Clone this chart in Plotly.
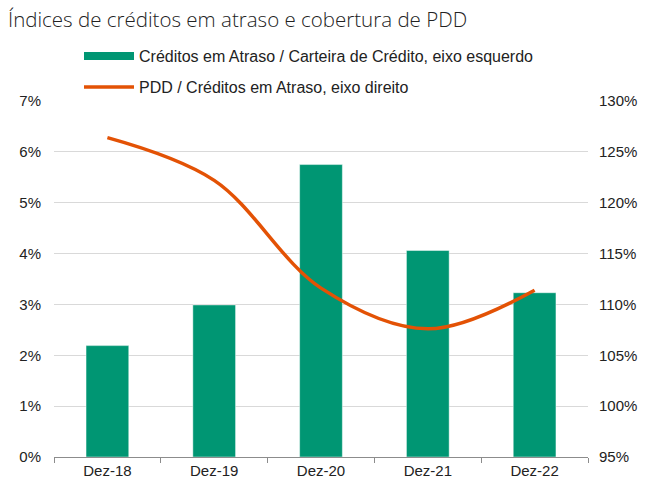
import plotly.graph_objects as go

categories = ["Dez-18", "Dez-19", "Dez-20", "Dez-21", "Dez-22"]
atraso_carteira = [2.19, 2.99, 5.75, 4.06, 3.23]   # % left axis
pdd_atraso = [126.4, 122.2, 111.6, 107.6, 111.4]    # % right axis

left_ticks = [0, 1, 2, 3, 4, 5, 6, 7]
right_ticks = [95, 100, 105, 110, 115, 120, 125, 130]

name_bar = "Créditos em Atraso / Carteira de Crédito, eixo esquerdo"
name_line = "PDD / Créditos em Atraso, eixo direito"

GREEN = "#009673"
ORANGE = "#E35205"
FONT = "Liberation Sans, Arial, sans-serif"

fig = go.Figure()
fig.add_trace(go.Bar(
    x=categories, y=atraso_carteira, name=name_bar,
    marker=dict(color=GREEN, line=dict(color="rgba(255,255,255,0.45)", width=1)),
    showlegend=False, yaxis="y",
))
fig.add_trace(go.Scatter(
    x=categories, y=pdd_atraso, name=name_line, mode="lines",
    line=dict(color=ORANGE, width=3.5, shape="spline", smoothing=1),
    showlegend=False, yaxis="y2",
))
# legend entries
fig.add_trace(go.Scatter(x=[None], y=[None], mode="lines", name=name_bar,
                         line=dict(color=GREEN, width=8), legend="legend"))
fig.add_trace(go.Scatter(x=[None], y=[None], mode="lines", name=name_line,
                         line=dict(color=ORANGE, width=3.5), legend="legend2"))

fig.update_layout(
    width=646, height=483,
    margin=dict(l=54, r=58, t=101, b=26, autoexpand=False),
    paper_bgcolor="white", plot_bgcolor="white",
    font=dict(family=FONT, size=15, color="#222222"),
    bargap=0.6,
    title=dict(text="Índices de créditos em atraso e cobertura de PDD",
               x=8/646, xanchor="left", xref="container",
               y=1 - 20/483, yanchor="middle", yref="container",
               font=dict(family="Open Sans, sans-serif", size=20.5, color="#222222", weight=300)),
    xaxis=dict(
        type="category", showgrid=False, showline=True, linecolor="#8c8c8c", linewidth=1,
        ticks="outside", tickson="boundaries", ticklen=5, tickcolor="#8c8c8c",
        tickfont=dict(size=15), fixedrange=True,
    ),
    yaxis=dict(
        range=[0, 7], tickvals=left_ticks, ticktext=[f"{v}%" for v in left_ticks],
        showgrid=True, gridcolor="#D9D9D9", gridwidth=1, zeroline=False, showline=False,
        ticklabelstandoff=12, tickfont=dict(size=15),
    ),
    yaxis2=dict(
        range=[95, 130], tickvals=right_ticks, ticktext=[f"{v}%" for v in right_ticks],
        overlaying="y", side="right", showgrid=False, zeroline=False, showline=False,
        ticklabelstandoff=10, tickfont=dict(size=15),
    ),
    legend=dict(
        x=(79-54)/534, y=1 + (101-56)/356, xanchor="left", yanchor="middle",
        bgcolor="rgba(0,0,0,0)", itemwidth=50,
        font=dict(family=FONT, size=16, color="#222222"),
    ),
    legend2=dict(
        x=(79-54)/534, y=1 + (101-87)/356, xanchor="left", yanchor="middle",
        bgcolor="rgba(0,0,0,0)", itemwidth=50,
        font=dict(family=FONT, size=16, color="#222222"),
    ),
)

fig.write_html("out.html", config={"displayModeBar": False},
               post_script="document.body.style.margin='0px';")
